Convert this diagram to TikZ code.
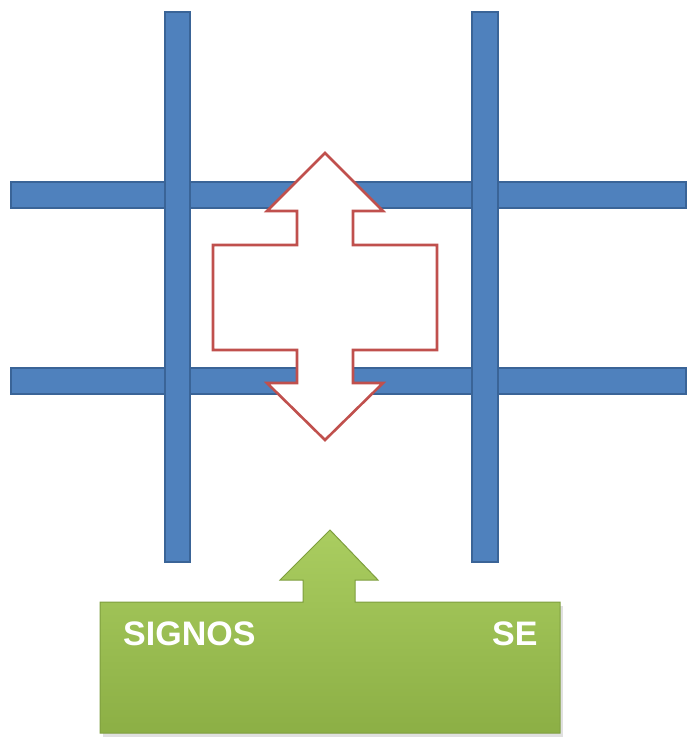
\documentclass[tikz,border=0pt]{standalone}
\usepackage{fontspec}
\setmainfont{Liberation Sans}
\usetikzlibrary{calc}
\definecolor{barfill}{HTML}{4F81BD}
\definecolor{baredge}{HTML}{3A6497}
\definecolor{redline}{HTML}{C0504D}
\definecolor{greentop}{HTML}{AACD60}
\definecolor{greenbot}{HTML}{8CAF45}
\definecolor{greenedge}{HTML}{7E9E3E}
\tikzset{
  bar/.style={fill=barfill, draw=baredge, line width=1.4pt},
  redarrow/.style={fill=white, draw=redline, line width=2.6pt, line join=miter},
  greenshape/.style={top color=greentop, bottom color=greenbot, draw=greenedge, line width=1pt},
  label/.style={text=white, font=\bfseries\fontsize{34}{40}\selectfont, inner sep=0pt, anchor=base west}
}
\begin{document}
\begin{tikzpicture}[x=1pt,y=-1pt]
\useasboundingbox (0,0) rectangle (693,742);
% horizontal bars
\draw[bar] (11,182) rectangle (686,208);
\draw[bar] (11,368) rectangle (686,394);
% vertical bars
\draw[bar] (165,12) rectangle (190,562);
\draw[bar] (472,12) rectangle (498,562);
% red double arrow with box
\draw[redarrow] (325,153) -- (383,211) -- (353,211) -- (353,245) -- (437,245)
  -- (437,350) -- (353,350) -- (353,383) -- (383,383) -- (325,440)
  -- (267,383) -- (297,383) -- (297,350) -- (213,350) -- (213,245)
  -- (297,245) -- (297,211) -- (267,211) -- cycle;
% shadow of green shape
\fill[black, opacity=0.12] (103,606) -- (563,606) -- (563,737) -- (103,737) -- cycle;
% green box with arrow
\draw[greenshape] (100,602) -- (303,602) -- (303,580) -- (280,580) -- (330,530)
  -- (378,580) -- (355,580) -- (355,602) -- (560,602) -- (560,733) -- (100,733) -- cycle;
\node[label] (signos) at (123,645) {SIGNOS};
\node[label] (se) at (492,645) {SE};
\end{tikzpicture}
\end{document}
